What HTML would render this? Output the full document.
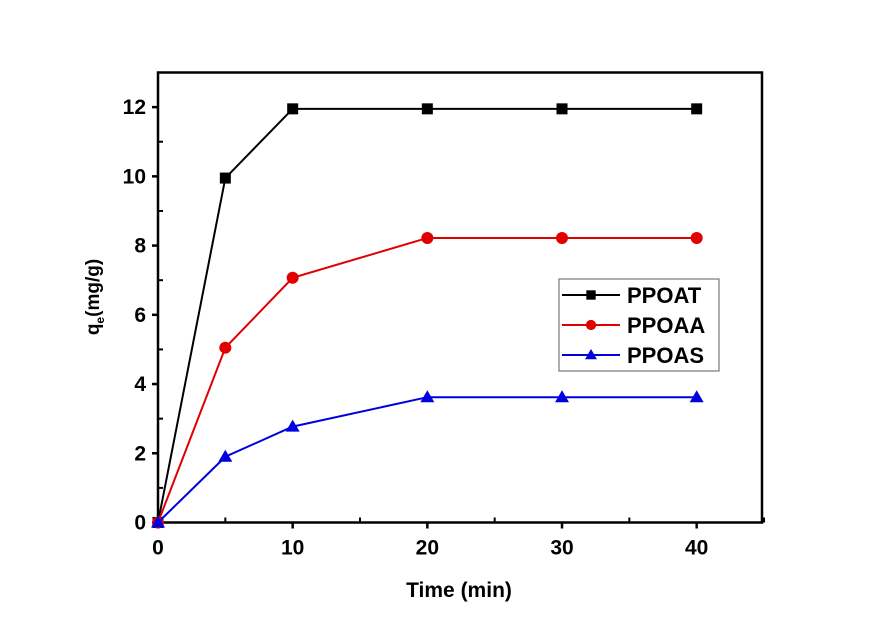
<!DOCTYPE html>
<html><head><meta charset="utf-8"><style>
body{margin:0;background:#fff;}
svg{display:block;font-family:"Liberation Sans",Arial,sans-serif;font-weight:bold;}
</style></head><body>
<svg id="chart" width="884" height="627" viewBox="0 0 884 627" xmlns="http://www.w3.org/2000/svg">
<rect width="884" height="627" fill="#fff"/>
<g id="plot"></g>
</svg>
<script>
const xValues=[0,5,10,20,30,40];
const ppoat=[0,9.95,11.95,11.95,11.95,11.95];
const ppoaa=[0,5.05,7.07,8.22,8.22,8.22];
const ppoas=[0,1.9,2.77,3.62,3.62,3.62];
const xTicks=[0,10,20,30,40];
const yTicks=[0,2,4,6,8,10,12];
const seriesNames=["PPOAT","PPOAA","PPOAS"];
const L=158,R=762,T=72.5,B=522.5,XMAX=44.85,YMAX=13;
const sx=v=>L+v/XMAX*(R-L), sy=v=>B-v/YMAX*(B-T);
const NS="http://www.w3.org/2000/svg";
const g=document.getElementById('plot');
function el(t,a,p){const e=document.createElementNS(NS,t);for(const k in a)e.setAttribute(k,a[k]);(p||g).appendChild(e);return e;}
const frame=el('rect',{x:L,y:T,width:R-L,height:B-T,fill:'none',stroke:'#000','stroke-width':2.5});


xTicks.forEach(v=>{
 const t=el('line',{x1:sx(v),x2:sx(v),y1:B,y2:B+6,stroke:'#000','stroke-width':2.5});
 
 
 const m=el('line',{x1:sx(v+5),x2:sx(v+5),y1:B,y2:B-5,stroke:'#000','stroke-width':2});
 
 
 const s=el('text',{x:sx(v),y:B+32,'font-size':21,'text-anchor':'middle'});s.textContent=v;
 
 
});
yTicks.forEach(v=>{
 const t=el('line',{x1:L-6,x2:L,y1:sy(v),y2:sy(v),stroke:'#000','stroke-width':2.5});
 
 
 if(v<12){const m=el('line',{x1:L,x2:L+5,y1:sy(v+1),y2:sy(v+1),stroke:'#000','stroke-width':2});
 
 }
 const s=el('text',{x:L-12,y:sy(v)+7,'font-size':21,'text-anchor':'end'});s.textContent=v;
 
 
});
const xt=el('text',{x:459,y:597,'font-size':21,'text-anchor':'middle'});xt.textContent='Time (min)';


const yt=el('text',{transform:'translate(99,297) rotate(-90)','font-size':19,'text-anchor':'middle'});
yt.innerHTML='q<tspan font-size="12" dy="5">e</tspan><tspan dy="-5">(mg/g)</tspan>';


function marker(type,x,y,c,parent,k){
 k=k||1;let m;
 if(type==='sq')m=el('rect',{x:x-5.5*k,y:y-5.5*k,width:11*k,height:11*k,fill:c},parent);
 else if(type==='ci')m=el('circle',{cx:x,cy:y,r:6*k,fill:c},parent);
 else m=el('polygon',{points:`${x},${y-7*k} ${x-7*k},${y+5*k} ${x+7*k},${y+5*k}`,fill:c},parent);
 return m;
}
const series=[[ppoat,'#000','sq'],[ppoaa,'#e00000','ci'],[ppoas,'#0000e0','tr']];
series.forEach((s,i)=>{
 const pts=xValues.map((x,j)=>sx(x)+','+sy(s[0][j])).join(' ');
 const l=el('polyline',{points:pts,fill:'none',stroke:s[1],'stroke-width':2});
 
 
 xValues.forEach((x,j)=>{const m=marker(s[2],sx(x),sy(s[0][j]),s[1]);
  
  });
});
const lg=el('g',{});


el('rect',{x:559,y:279,width:160,height:92,fill:'#fff',stroke:'#777','stroke-width':1.2},lg);
series.forEach((s,i)=>{
 const y=295+i*30;
 el('line',{x1:562,x2:620,y1:y,y2:y,stroke:s[1],'stroke-width':2},lg);
 marker(s[2],591,y,s[1],lg,0.85);
 const t=el('text',{x:627,y:y+8,'font-size':22},lg);t.textContent=seriesNames[i];
 
 
});
</script>
</body></html>
